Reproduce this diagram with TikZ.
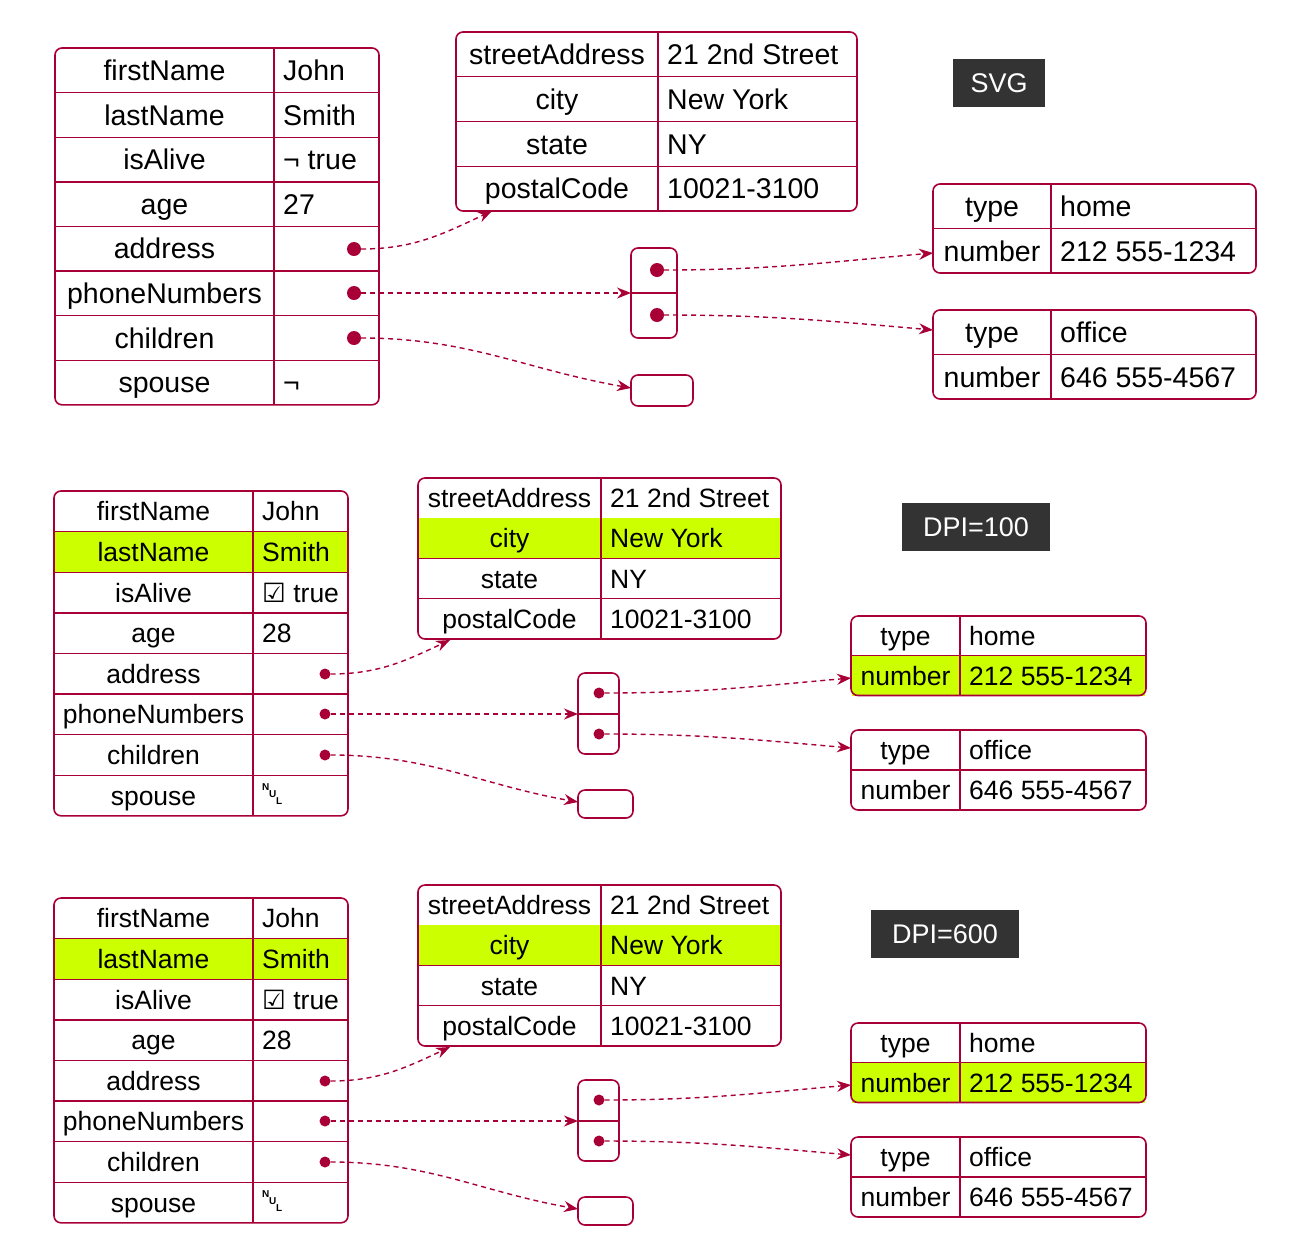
\documentclass[tikz,border=0pt]{standalone}
\usepackage{fontspec}
\setmainfont{Liberation Sans}
\newfontfamily\djv{DejaVu Sans}
\usetikzlibrary{arrows.meta}
\definecolor{bord}{HTML}{A80036}
\definecolor{hlc}{HTML}{CCFF00}
\tikzset{
  frame/.style={draw=bord,line width=1.6pt,rounded corners=7pt},
  sep/.style={draw=bord,line width=1.4pt},
  cell/.style={inner sep=0pt,anchor=base},
  dot/.style={circle,fill=bord,inner sep=0pt,minimum size=14pt},
  link/.style={draw=bord,line width=1.4pt,dash pattern=on 5pt off 4pt,-{Stealth[length=14pt,width=11pt]}},
  lbl/.style={fill=black!80,text=white,inner sep=0pt,minimum height=48pt,font=\fontsize{27}{30}\selectfont},
  nulc/.style={inner sep=0,font=\fontsize{10}{10}\selectfont\bfseries},
}
\newcommand\nulsym{\tikz[baseline=0pt,x=1pt,y=1pt]{\node[nulc] at (0,15) {N};\node[nulc] at (7,8) {U};\node[nulc] at (14,1) {L};}}
% name, x0, y0, xsplit, x1, rowh, fontsize, rows {key/value/flag}
\newcommand\jtable[8]{%
  \foreach \k/\v/\h [count=\i] in {#8}{%
    \pgfmathsetmacro\ya{#3+(\i-1)*#6}%
    \pgfmathsetmacro\yb{#3+\i*#6}%
    \pgfmathsetmacro\yt{(\ya+\yb)/2+0.36*#7}%
    \if y\h \fill[hlc] (#2+1,\ya) rectangle (#5-1,\yb);\fi
    \node[cell,font=\fontsize{#7}{#7}\selectfont] (#1-k\i) at ({(#2+#4)/2},\yt) {\k};
    \node[cell,anchor=base west,font=\fontsize{#7}{#7}\selectfont] (#1-v\i) at ({#4+9},\yt) {\v};
    \ifnum\i<\nrows \draw[sep] (#2,\yb) -- (#5,\yb);\fi
  }
  \draw[frame] (#2,#3) rectangle (#5,{#3+#6*\nrows});
  \draw[sep] (#4,#3) -- (#4,{#3+#6*\nrows});
}
\begin{document}
\begin{tikzpicture}[x=1pt,y=-1pt]
\useasboundingbox (0,0) rectangle (1297,1256);
% ================= SVG =================
\def\nrows{8}
\jtable{m}{55}{48}{274}{379}{44.6}{28.5}{firstName/John/n,lastName/Smith/n,isAlive/{¬ true}/n,age/27/n,address//n,phoneNumbers//n,children//n,spouse/¬/n}
\def\nrows{4}
\jtable{ad}{456}{32}{658}{857}{44.75}{28.5}{streetAddress/21 2nd Street/n,city/New York/n,state/NY/n,postalCode/10021-3100/n}
\def\nrows{2}
\jtable{p}{933}{184}{1051}{1256}{44.5}{28.5}{type/home/n,number/212 555-1234/n}
\jtable{q}{933}{310}{1051}{1256}{44.5}{28.5}{type/office/n,number/646 555-4567/n}
\draw[frame] (631,248) rectangle (677,338);
\draw[sep] (631,293) -- (677,293);
\coordinate (arrL) at (631,293);
\draw[frame] (631,375) rectangle (693,406);
\coordinate (empL) at (631,388);
\coordinate (adB) at (492,211);
\coordinate (pT) at (933,253);
\coordinate (qT) at (933,330);
\node[dot] (d1) at (354,249) {};
\node[dot] (d2) at (354,293) {};
\node[dot] (d3) at (354,338) {};
\node[dot] (e1) at (657,270) {};
\node[dot] (e2) at (657,315) {};
\path[link] (d1) to[out=0,in=-155] (adB);
\path[link] (d2) -- (arrL);
\path[link] (d3) to[out=0,in=170] (empL);
\path[link] (e1) to[out=0,in=185] (pT);
\path[link] (e2) to[out=0,in=175] (qT);
\node[lbl,minimum width=92pt] (lsvg) at (999,83) {SVG};
% ================= DPI=100 / DPI=600 =================
\foreach \dy/\lab/\lx/\lw [count=\n] in {0/DPI=100/976/148, 407/DPI=600/945/148}{
\begin{scope}[yshift=-\dy pt]
\def\nrows{8}
\jtable{m\n}{54}{491}{253}{348}{40.6}{26.5}{firstName/John/n,lastName/Smith/y,isAlive/{{\djv ☑} true}/n,age/28/n,address//n,phoneNumbers//n,children//n,spouse/{\nulsym}/n}
\def\nrows{4}
\jtable{ad\n}{418}{478}{601}{781}{40.25}{26.5}{streetAddress/21 2nd Street/n,city/New York/y,state/NY/n,postalCode/10021-3100/n}
\def\nrows{2}
\jtable{p\n}{851}{616}{960}{1146}{39.75}{26.5}{type/home/n,number/212 555-1234/y}
\jtable{q\n}{851}{730}{960}{1146}{40}{26.5}{type/office/n,number/646 555-4567/n}
\draw[frame] (578,673) rectangle (619,754);
\draw[sep] (578,714) -- (619,714);
\coordinate (arrL\n) at (578,714);
\draw[frame] (578,790) rectangle (633,818);
\coordinate (empL\n) at (578,802);
\coordinate (adB\n) at (450,640);
\coordinate (pT\n) at (851,678);
\coordinate (qT\n) at (851,748);
\node[dot,minimum size=11pt] (f1\n) at (325,674) {};
\node[dot,minimum size=11pt] (f2\n) at (325,714) {};
\node[dot,minimum size=11pt] (f3\n) at (325,755) {};
\node[dot,minimum size=11pt] (g1\n) at (599,693) {};
\node[dot,minimum size=11pt] (g2\n) at (599,734) {};
\path[link] (f1\n) to[out=0,in=-155] (adB\n);
\path[link] (f2\n) -- (arrL\n);
\path[link] (f3\n) to[out=0,in=170] (empL\n);
\path[link] (g1\n) to[out=0,in=185] (pT\n);
\path[link] (g2\n) to[out=0,in=175] (qT\n);
\node[lbl,minimum width=\lw pt] (lab\n) at (\lx,527) {\lab};
\end{scope}}
\end{tikzpicture}
\end{document}
